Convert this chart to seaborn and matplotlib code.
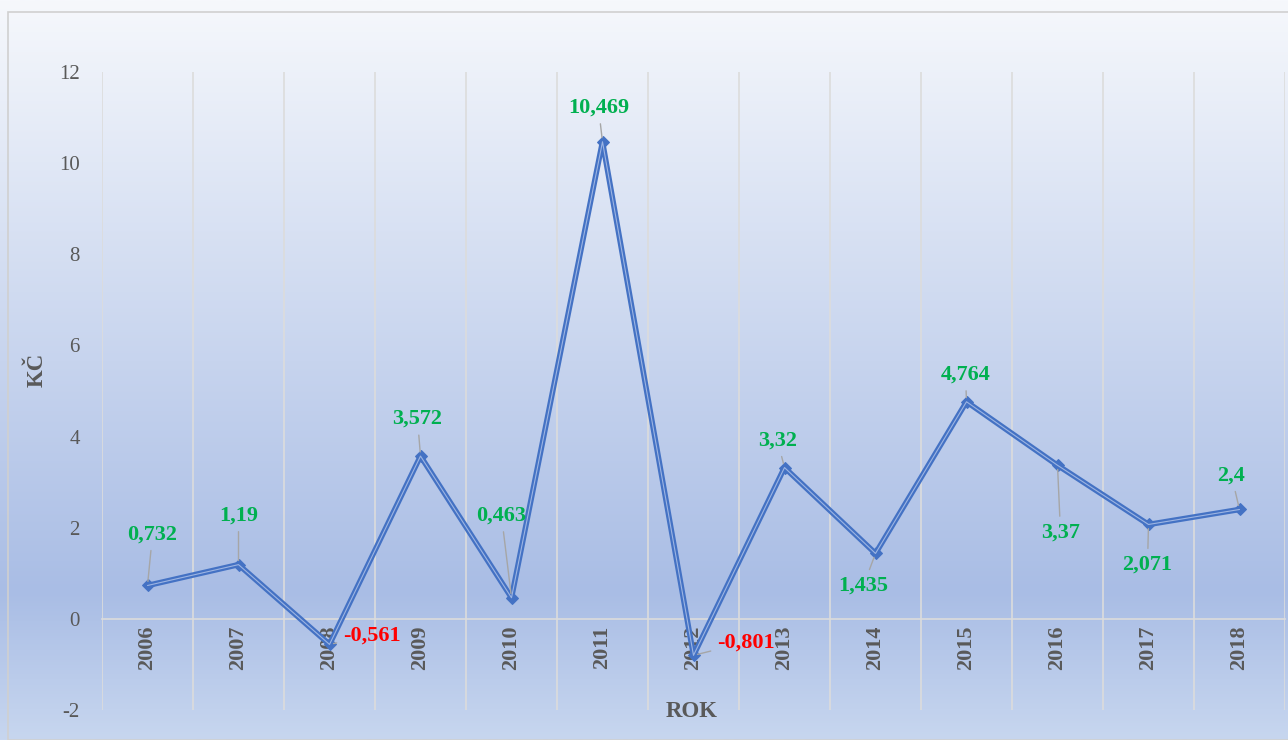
import numpy as np
import pandas as pd
import matplotlib.pyplot as plt
import seaborn as sns
from matplotlib.colors import LinearSegmentedColormap
from matplotlib.patches import Rectangle

# data
years = ["2006", "2007", "2008", "2009", "2010", "2011", "2012",
         "2013", "2014", "2015", "2016", "2017", "2018"]
values = [0.732, 1.19, -0.561, 3.572, 0.463, 10.469, -0.801,
          3.32, 1.435, 4.764, 3.37, 2.071, 2.4]

# label offsets in pixels (layout only)
label_dx = [5, 0, 42, -3, -10, -4, 52, -7, -12, -1, 3, -1, -8]
label_dy = [51, 49, 9, 37, 82, 34, 13, 27, -32, 27, -67, -40, 34]

sns.set_theme(style="white")
plt.rcParams["font.family"] = ["Liberation Serif", "DejaVu Serif"]
plt.rcParams["axes.unicode_minus"] = False

W, H = 1288, 740
fig = plt.figure(figsize=(W / 100, H / 100), dpi=100)

# gradient background
bg = fig.add_axes([0, 0, 1, 1], zorder=-2)
cmap = LinearSegmentedColormap.from_list(
    "bg", [(0.0, "#f6f8fc"), (0.8, "#a9bde5"), (1.0, "#c7d6ef")])
grad = np.linspace(0, 1, 256).reshape(-1, 1)
bg.imshow(grad, aspect="auto", cmap=cmap, extent=[0, 1, 0, 1], origin="upper")
bg.set_axis_off()
fig.patches.append(Rectangle((8 / W, 0), 1.0, (H - 12) / H, transform=fig.transFigure,
                             fill=False, edgecolor="#d0d0d0", lw=1.2, zorder=-1))

ax = fig.add_axes([102 / W, 30 / H, (1285 - 102) / W, (710 - 72) / H])
ax.set_facecolor("none")

df = pd.DataFrame({"ROK": years, "KC": values})
sns.lineplot(data=df, x="ROK", y="KC", ax=ax, color="#4472c4", linewidth=4,
             marker="D", markersize=6, markeredgecolor="#4472c4", zorder=3)
sns.lineplot(data=df, x="ROK", y="KC", ax=ax, color="#9db5e3", linewidth=0.8, zorder=4)

ax.set_xlim(-0.5, len(years) - 0.5)
ax.set_ylim(-2, 12)
ax.set_yticks(np.arange(-2, 13, 2))

# vertical gridlines between categories
for xb in np.arange(-0.5, len(years), 1.0):
    ax.axvline(xb, color="#dcdcdc", lw=1.2, zorder=1)

for s in ["top", "right", "left"]:
    ax.spines[s].set_visible(False)
ax.spines["bottom"].set_position(("data", 0))
ax.spines["bottom"].set_color("#dcdcdc")
ax.spines["bottom"].set_linewidth(1.2)

ax.tick_params(axis="x", length=0, pad=5, labelsize=16, labelcolor="#595959")
ax.tick_params(axis="y", length=0, pad=16, labelsize=15, labelcolor="#595959")
for t in ax.get_xticklabels():
    t.set_rotation(90)
    t.set_fontweight("bold")

ax.set_xlabel("ROK", fontsize=16.5, fontweight="bold", color="#595959")
ax.xaxis.set_label_coords(0.4987, 0.0135)
ax.set_ylabel("KČ", fontsize=16.5, fontweight="bold", color="#595959")
ax.yaxis.set_label_coords(-0.046, 0.533)

for i, v in enumerate(values):
    col = "#00b050" if v >= 0 else "#ff0000"
    ax.annotate(str(v).replace(".", ","), xy=(i, v),
                xytext=(label_dx[i], label_dy[i]), textcoords="offset pixels",
                ha="center", va="center", fontsize=16, fontweight="bold", color=col,
                arrowprops=dict(arrowstyle="-", color="#a6a6a6", lw=1,
                                shrinkA=2, shrinkB=3),
                zorder=5)

fig.savefig("out.png", dpi=100)
